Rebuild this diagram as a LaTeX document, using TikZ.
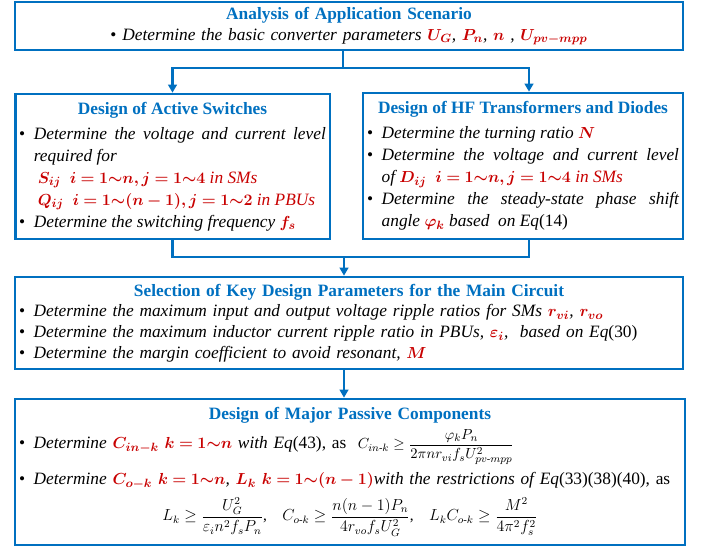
\documentclass[tikz,border=0pt]{standalone}
\usepackage{amsmath}
\usepackage{bm}
\usepackage{fontspec}
\setmainfont{Liberation Serif}
\usetikzlibrary{arrows.meta, positioning}

\definecolor{flowblue}{RGB}{0,112,192}
\definecolor{parred}{RGB}{200,0,0}
\newcommand{\hl}[1]{\textcolor{parred}{$\bm{#1}$}}
\newcommand{\bitem}{\par\noindent\hangindent=11pt\hangafter=1\makebox[11pt][l]{\upshape\textbullet}}
\newcommand{\boxtitle}[1]{{\centering\upshape\bfseries\color{flowblue}#1\par}}

\begin{document}
\begin{tikzpicture}[x=0.75pt, y=-0.75pt, >={Triangle[length=6pt,width=6.5pt]},
  flowbox/.style={draw=flowblue, line width=2pt, inner xsep=3pt, inner ysep=2pt,
    font=\fontsize{13}{15.5}\selectfont\itshape, align=justify},
  link/.style={draw=flowblue, line width=2pt}]
  \useasboundingbox (0,0) rectangle (710,548);
  % Stage 1: scenario
  \node[flowbox, text width=495pt, minimum height=36pt, align=center] (scen) at (349,26) {%
    \boxtitle{Analysis of Application Scenario}
    \upshape\textbullet\ \itshape Determine the basic converter parameters \hl{U_G}, \hl{P_n}, \hl{n} , \hl{U_{pv-mpp}}};
  % Stage 2: switches and transformers side by side
  \node[flowbox, text width=230pt, minimum height=108.75pt,
        font=\fontsize{13}{16.5}\selectfont\itshape] (switch) at (172.5,166.5) {%
    \boxtitle{Design of Active Switches}\vspace{2pt}
    \bitem Determine the voltage and current level\linebreak required for\newline
    \hspace*{3pt}\hl{S_{ij}}\ \ \hl{i=1{\sim}n,j=1{\sim}4}\textcolor{parred}{\ in SMs}\newline
    \hspace*{3pt}\hl{Q_{ij}}\ \ \hl{i=1{\sim}(n-1),j=1{\sim}2}\textcolor{parred}{\ in PBUs}
    \bitem Determine the switching frequency \hl{f_s}\par};
  \node[flowbox, text width=234pt, minimum height=109.5pt,
        font=\fontsize{13}{16.5}\selectfont\itshape] (hftr) at (523,166) {%
    \boxtitle{Design of HF Transformers and Diodes}\vspace{2pt}
    \bitem Determine the turning ratio \hl{N}
    \bitem Determine the voltage and current level\linebreak of \hl{D_{ij}}\ \ \hl{i=1{\sim}n,j=1{\sim}4}\textcolor{parred}{\ in SMs}
    \bitem Determine the steady-state phase shift\linebreak angle \hl{\varphi_k} based\ \ on Eq{\upshape(14)}\par};
  % Stage 3: key parameters
  \node[flowbox, text width=495pt, minimum height=69pt, align=left] (keypar) at (349,323) {%
    \boxtitle{Selection of Key Design Parameters for the Main Circuit}
    \bitem Determine the maximum input and output voltage ripple ratios for SMs \hl{r_{vi}}, \hl{r_{vo}}
    \bitem Determine the maximum inductor current ripple ratio in PBUs, \hl{\varepsilon_i},\ \ based on Eq{\upshape(30)}
    \bitem Determine the margin coefficient to avoid resonant, \hl{M}\par};
  % Stage 4: passive parts
  \node[flowbox, text width=496.5pt, minimum height=109.5pt, align=left] (passive) at (350,472) {%
    \boxtitle{Design of Major Passive Components}\vspace{3pt}
    \bitem Determine \hl{C_{in-k}}\ \hl{k=1{\sim}n} with Eq{\upshape(43), as}\ \
      {\upshape\fontsize{11}{13}\selectfont$C_{in\text{-}k}\geq\dfrac{\varphi_k P_n}{2\pi n r_{vi} f_s U^2_{pv\text{-}mpp}}$}\par
    \vspace{5pt}
    \bitem Determine \hl{C_{o-k}}\ \hl{k=1{\sim}n}, \hl{L_k}\ \hl{k=1{\sim}(n-1)}with the restrictions of Eq{\upshape(33)(38)(40), as}\par
    \vspace{5pt}
    {\centering\upshape\fontsize{11.5}{13}\selectfont
      $L_k\geq\dfrac{U_G^2}{\varepsilon_i n^2 f_s P_n}$,\quad
      $C_{o\text{-}k}\geq\dfrac{n(n-1)P_n}{4r_{vo}f_s U_G^2}$,\quad
      $L_k C_{o\text{-}k}\geq\dfrac{M^2}{4\pi^2 f_s^2}$\par}};
  % Connectors
  \coordinate (split) at (343,68);
  \coordinate (merge) at (344,257);
  \draw[link] (scen.south -| split) -- (split);
  \draw[link, ->] (split) -| (switch.north);
  \draw[link, ->] (split) -| ([xshift=4.5pt]hftr.north);
  \draw[link] (switch.south) |- (merge);
  \draw[link] ([xshift=4.5pt]hftr.south) |- (merge);
  \draw[link, ->] (merge) -- (merge |- keypar.north);
  \draw[link, ->] (keypar.south -| merge) -- (merge |- passive.north);
\end{tikzpicture}
\end{document}
